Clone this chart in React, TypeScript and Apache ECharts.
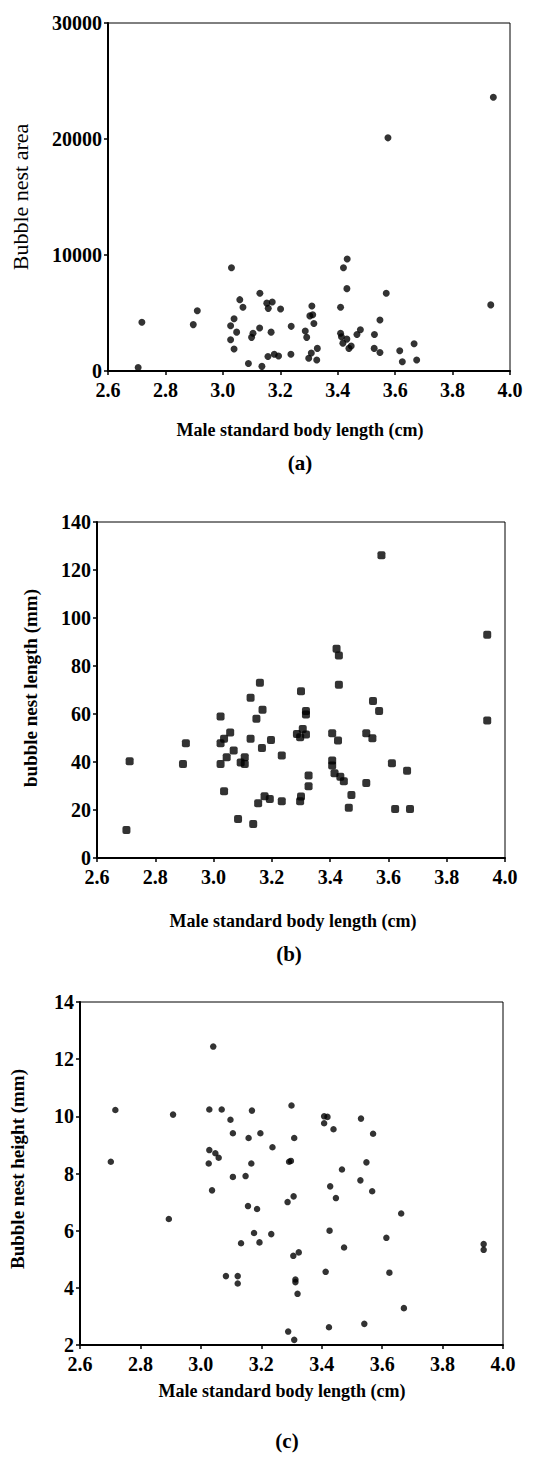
import React, { useEffect, useRef } from "react";
import * as echarts from "echarts";

// ---------- data ----------
const xTickValues = [2.6, 2.8, 3.0, 3.2, 3.4, 3.6, 3.8, 4.0];

// (a) bubble nest area
const bodyLengthA = [
  2.705, 2.718, 2.897, 2.911, 3.03, 3.027, 3.039, 3.027, 3.039, 3.048, 3.059, 3.07, 3.089, 3.1, 3.105, 3.128,
  3.129, 3.136, 3.153, 3.158, 3.172, 3.168, 3.157, 3.179, 3.194, 3.201, 3.238, 3.237, 3.287, 3.292, 3.299,
  3.31, 3.303, 3.313, 3.317, 3.308, 3.327, 3.329, 3.41, 3.41, 3.413, 3.42, 3.433, 3.432, 3.418, 3.432, 3.439,
  3.447, 3.467, 3.479, 3.528, 3.527, 3.547, 3.547, 3.569, 3.575, 3.616, 3.625, 3.666, 3.675, 3.933, 3.942,
];
const nestArea = [
  300, 4200, 4000, 5200, 8900, 3900, 4500, 2700, 1900, 3350, 6150, 5500, 650, 2900, 3250, 3700,
  6700, 400, 5850, 5400, 5950, 3350, 1250, 1450, 1300, 5350, 3850, 1450, 3450, 2900, 1100,
  5600, 4750, 4850, 4100, 1550, 950, 1950, 5500, 3250, 2950, 8900, 9650, 7100, 2400, 2750, 1950,
  2150, 3150, 3550, 3150, 1950, 1600, 4400, 6700, 20100, 1750, 800, 2350, 950, 5700, 23600,
];

// (b) bubble nest length
const bodyLengthB = [
  2.701, 2.712, 2.895, 2.905, 3.024, 3.024, 3.036, 3.057, 3.024, 3.045, 3.036, 3.069, 3.084, 3.093, 3.107,
  3.107, 3.127, 3.127, 3.136, 3.159, 3.168, 3.147, 3.166, 3.153, 3.175, 3.193, 3.197, 3.234, 3.234, 3.3,
  3.286, 3.297, 3.306, 3.317, 3.317, 3.317, 3.297, 3.3, 3.326, 3.326, 3.407, 3.427, 3.407, 3.407, 3.415,
  3.422, 3.43, 3.43, 3.435, 3.447, 3.464, 3.473, 3.524, 3.524, 3.545, 3.547, 3.568, 3.576, 3.612, 3.623,
  3.664, 3.674, 3.939, 3.939,
];
const nestLength = [
  11.7, 40.3, 39.2, 47.8, 59.0, 47.8, 49.7, 52.3, 39.2, 42.0, 27.8, 44.8, 16.3, 39.8, 42.0,
  39.2, 66.8, 49.7, 14.2, 73.0, 61.8, 58.0, 45.8, 22.8, 25.7, 24.6, 49.2, 42.7, 23.6, 69.5,
  51.7, 50.3, 53.8, 51.5, 61.2, 59.8, 23.6, 25.6, 34.4, 29.9, 52.0, 49.0, 40.6, 38.5, 35.3,
  87.2, 84.4, 72.2, 33.9, 32.0, 20.9, 26.3, 31.3, 52.0, 49.9, 65.4, 61.2, 126.1, 39.5, 20.4,
  36.4, 20.4, 93.0, 57.3,
];

// (c) bubble nest height
const bodyLengthC = [
  2.702, 2.717, 2.894, 2.908, 3.028, 3.028, 3.026, 3.037, 3.041, 3.048, 3.059, 3.069, 3.083, 3.098, 3.106,
  3.106, 3.122, 3.122, 3.133, 3.148, 3.156, 3.158, 3.167, 3.169, 3.176, 3.186, 3.194, 3.197, 3.233, 3.237,
  3.287, 3.289, 3.292, 3.298, 3.3, 3.306, 3.307, 3.309, 3.309, 3.313, 3.313, 3.32, 3.324, 3.408, 3.408,
  3.413, 3.419, 3.424, 3.426, 3.428, 3.439, 3.447, 3.467, 3.474, 3.528, 3.53, 3.541, 3.548, 3.567, 3.57,
  3.614, 3.624, 3.663, 3.672, 3.936, 3.936,
];
const nestHeight = [
  8.41, 10.22, 6.41, 10.06, 10.24, 8.82, 8.35, 7.41, 12.44, 8.71, 8.55, 10.24, 4.41, 9.88, 9.41,
  7.88, 4.41, 4.15, 5.56, 7.91, 6.86, 9.24, 8.35, 10.2, 5.92, 6.76, 5.59, 9.41, 5.88, 8.92,
  7.0, 2.47, 8.41, 8.44, 10.38, 5.12, 7.2, 9.24, 2.18, 4.29, 4.2, 3.79, 5.24, 10.0, 9.76,
  4.56, 9.98, 2.62, 6.0, 7.55, 9.55, 7.14, 8.14, 5.41, 7.76, 9.92, 2.74, 8.39, 7.38, 9.39,
  5.75, 4.53, 6.6, 3.29, 5.53, 5.33,
];

const xTitle = "Male standard body length (cm)";
const yTitles = ["Bubble nest area", "bubble nest length (mm)", "Bubble nest height (mm)"];
const panelLabels = ["(a)", "(b)", "(c)"];

// ---------- styling ----------
const FONT = '"Liberation Serif", "Times New Roman", serif';

const grids = [
  { left: 108, top: 23, width: 402, height: 348 },
  { left: 97, top: 522, width: 408, height: 336 },
  { left: 80, top: 1002, width: 423, height: 343 },
];
const yRanges = [
  { min: 0, max: 30000, interval: 10000 },
  { min: 0, max: 140, interval: 20 },
  { min: 2, max: 14, interval: 2 },
];

const zip = (xs: number[], ys: number[]) => xs.map((x, i) => [x, ys[i]]);

function buildOption() {
  const axisLabelStyle = {
    color: "#000",
    fontFamily: FONT,
    fontWeight: "bold" as const,
    fontSize: 20,
  };
  const xAxes = grids.map((_, i) => ({
    type: "value" as const,
    gridIndex: i,
    min: xTickValues[0],
    max: xTickValues[xTickValues.length - 1],
    interval: 0.2,
    axisLine: { show: true, onZero: false, lineStyle: { color: "#000", width: 2 } },
    axisTick: { show: true, length: 4, lineStyle: { color: "#000", width: 1.5 } },
    axisLabel: { ...axisLabelStyle, margin: 9, formatter: (v: number) => v.toFixed(1) },
    splitLine: { show: false },
  }));
  const yAxes = grids.map((_, i) => ({
    type: "value" as const,
    gridIndex: i,
    ...yRanges[i],
    axisLine: { show: true, onZero: false, lineStyle: { color: "#000", width: 2 } },
    axisTick: { show: true, length: 4, lineStyle: { color: "#000", width: 1.5 } },
    axisLabel: { ...axisLabelStyle, margin: 6, formatter: (v: number) => String(v) },
    splitLine: { show: false },
  }));

  const series = [
    { data: zip(bodyLengthA, nestArea), symbol: "circle", symbolSize: 7 },
    { data: zip(bodyLengthB, nestLength), symbol: "roundRect", symbolSize: 8 },
    { data: zip(bodyLengthC, nestHeight), symbol: "circle", symbolSize: 6.5 },
  ].map((s, i) => ({
    type: "scatter" as const,
    xAxisIndex: i,
    yAxisIndex: i,
    itemStyle: { color: "#000" },
    ...s,
  }));

  const yTitlePos = [
    [20, 197],
    [30, 688],
    [17, 1169],
  ];
  const yTitleFont = [`22px ${FONT}`, `bold 19px ${FONT}`, `bold 19px ${FONT}`];
  const xTitlePos = [
    [300, 430],
    [293, 921],
    [282, 1391],
  ];
  const labelPos = [
    [300, 463],
    [289, 954],
    [287, 1441],
  ];

  const graphic: any[] = [];
  for (let i = 0; i < 3; i++) {
    graphic.push({
      type: "text",
      x: yTitlePos[i][0],
      y: yTitlePos[i][1],
      rotation: Math.PI / 2,
      style: {
        text: yTitles[i],
        fill: "#000",
        font: yTitleFont[i],
        textAlign: "center",
        textVerticalAlign: "middle",
      },
    });
    graphic.push({
      type: "text",
      x: xTitlePos[i][0],
      y: xTitlePos[i][1],
      style: {
        text: xTitle,
        fill: "#000",
        font: `bold 18px ${FONT}`,
        textAlign: "center",
        textVerticalAlign: "middle",
      },
    });
    graphic.push({
      type: "text",
      x: labelPos[i][0],
      y: labelPos[i][1],
      style: {
        text: panelLabels[i],
        fill: "#000",
        font: `bold 21px ${FONT}`,
        textAlign: "center",
        textVerticalAlign: "middle",
      },
    });
  }

  return {
    animation: false,
    backgroundColor: "#fff",
    grid: grids.map((g) => ({ ...g, show: true, borderColor: "#000", borderWidth: 1, backgroundColor: "transparent" })),
    xAxis: xAxes,
    yAxis: yAxes,
    series,
    graphic,
  };
}

export default function App() {
  const ref = useRef<HTMLDivElement>(null);
  useEffect(() => {
    if (!ref.current) return;
    const chart = echarts.init(ref.current, null, { renderer: "svg" });
    chart.setOption(buildOption() as any);
    return () => chart.dispose();
  }, []);
  return (
    <div
      ref={ref}
      style={{ position: "absolute", left: 0, top: 0, width: 550, height: 1466, background: "#fff" }}
    />
  );
}
